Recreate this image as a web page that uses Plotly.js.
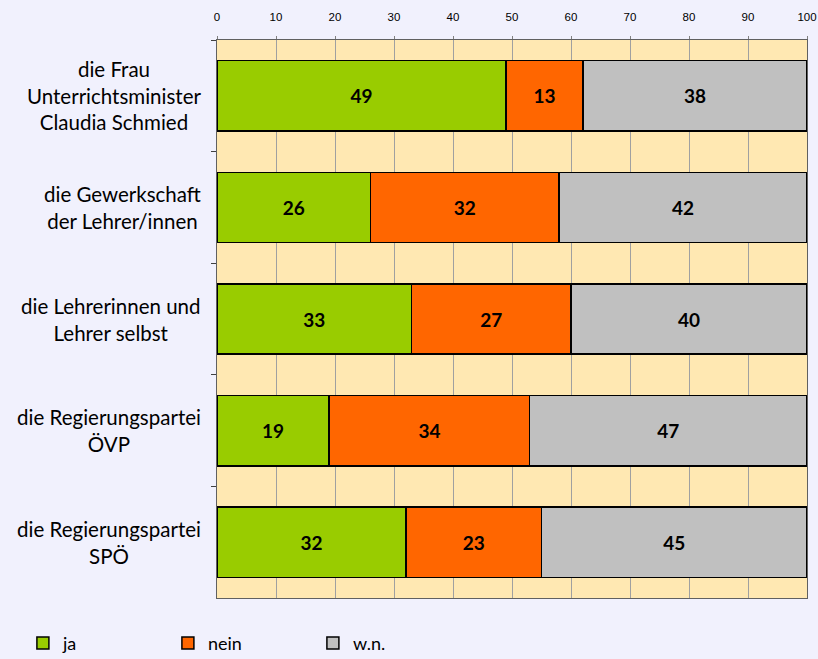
<!DOCTYPE html>
<html><head><meta charset="utf-8">
<script src="https://cdn.plot.ly/plotly-3.0.1.min.js"></script>
<style>body{margin:0;background:#f1f1fd;}#c{width:818px;height:659px;}</style>
</head><body><div id="c"></div>
<script>
const categories = ["die Frau<br>Unterrichtsminister<br>Claudia Schmied","die Gewerkschaft<br>der Lehrer/innen","die Lehrerinnen und<br>Lehrer selbst","die Regierungspartei<br>ÖVP","die Regierungspartei<br>SPÖ"];
const ja = [49,26,33,19,32];
const nein = [13,32,27,34,23];
const wn = [38,42,40,47,45];
const seriesNames = ["ja","nein","w.n."];
const colors = ["#99cc00","#ff6600","#c0c0c0"];
const vals = [ja,nein,wn];
const labelFont = 'Lato, "Open Sans", sans-serif';
const traces = vals.map((v,i)=>({
  type:'bar', orientation:'h', y:categories, x:v, name:seriesNames[i],
  marker:{color:colors[i], line:{color:'#000', width:1.5}},
  width:0.63,
  text:v.map(String), textposition:'inside', insidetextanchor:'middle',
  textfont:{family:labelFont, size:19, color:'#000', weight:'bold'},
  constraintext:'none', hoverinfo:'none'
}));
const annotations = categories.map(c=>({
  xref:'paper', yref:'y', x:0, y:c, xshift:-14, xanchor:'right', yanchor:'middle',
  text:c, align:'center', showarrow:false,
  font:{family:labelFont, size:20.5, color:'#000'}
}));
const layout = {
  width:818, height:659, barmode:'stack', bargap:0,
  paper_bgcolor:'#f1f1fd', plot_bgcolor:'#ffe8b2',
  margin:{l:217, r:11, t:40, b:61},
  showlegend:true,
  annotations:annotations,
  legend:{orientation:'h', xref:'container', yref:'container', x:0.028, xanchor:'left', y:0.024, yanchor:'middle',
    font:{family:labelFont, size:18, color:'#000'}, entrywidth:100, entrywidthmode:'pixels',
    itemwidth:30, traceorder:'normal', bgcolor:'rgba(0,0,0,0)'},
  xaxis:{side:'top', range:[0,100], dtick:10, showgrid:true, gridcolor:'#a0a0a0', gridwidth:1,
    tickfont:{family:'"Liberation Sans", Arial, sans-serif', size:11.5, color:'#000'},
    ticks:'outside', ticklen:3, tickcolor:'#808080', ticklabelstandoff:10,
    showline:true, linecolor:'#606060', linewidth:1, mirror:true, zeroline:false, fixedrange:true},
  yaxis:{autorange:'reversed', type:'category', tickson:'boundaries', ticks:'outside', ticklen:5, tickcolor:'#404040',
    showline:true, linecolor:'#606060', linewidth:1, mirror:true, showgrid:false, showticklabels:false}
};
Plotly.newPlot('c', traces, layout, {displayModeBar:false, staticPlot:true});
</script></body></html>
